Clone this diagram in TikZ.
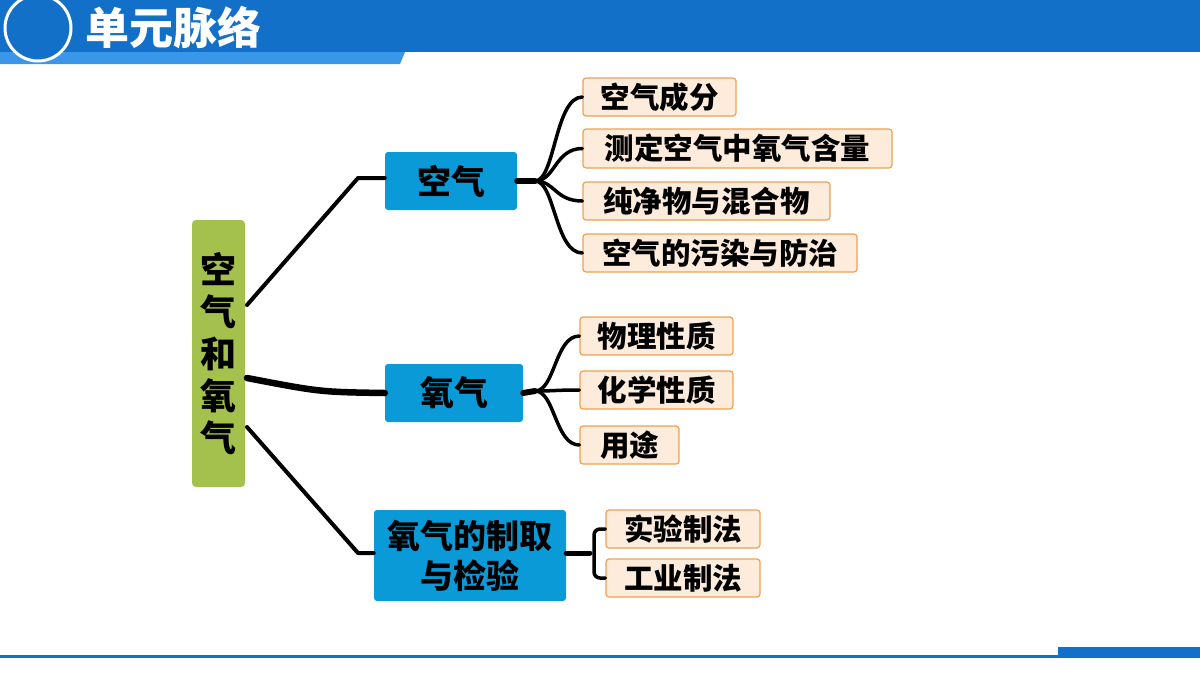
\documentclass[tikz,border=0pt]{standalone}
\usepackage{fontspec}
\newfontfamily\cjk{Noto Sans CJK SC}
\definecolor{hdr}{HTML}{1270C8}
\definecolor{strip}{HTML}{3A96E8}
\definecolor{nblue}{HTML}{0A9AD8}
\definecolor{ngreen}{HTML}{A4C14E}
\definecolor{lfill}{HTML}{FDEBDB}
\definecolor{lline}{HTML}{F0A050}
\begin{document}
\begin{tikzpicture}[x=1pt,y=-1pt,
 blue/.style={fill=nblue, rounded corners=3pt, inner sep=0pt, font=\cjk\bfseries\fontsize{34}{38}\selectfont},
 leaf/.style={fill=lfill, draw=lline, line width=1.2pt, rounded corners=3pt, inner sep=0pt, font=\cjk\bfseries\fontsize{29.5}{32}\selectfont},
 con/.style={line width=4pt, line cap=round, line join=round}]
\useasboundingbox (0,0) rectangle (1200,675);
\fill[white] (0,0) rectangle (1200,675);
\fill[hdr] (0,0) rectangle (1200,52);
\fill[strip] (0,52) -- (405,52) -- (400,64) -- (0,64) -- cycle;
\draw[white, line width=3pt, fill=hdr] (38,28) circle (33);
\node[anchor=west, text=white, font=\cjk\bfseries\fontsize{44}{48}\selectfont] (title) at (82,28) {单元脉络};
\fill[hdr] (0,655) rectangle (1200,657.5);
\fill[hdr] (1058,647) rectangle (1200,657.5);
% nodes
\node[fill=ngreen, rounded corners=4pt, minimum width=53, minimum height=267, inner sep=0pt, align=center, font=\cjk\bfseries\fontsize{36}{42}\selectfont] (root) at (218.5,353.5) {空\\气\\和\\氧\\气};
\node[blue, minimum width=132, minimum height=58] (a) at (451,181) {空气};
\node[blue, minimum width=138, minimum height=58] (o) at (454,393) {氧气};
\node[blue, minimum width=192, minimum height=91, align=center, font=\cjk\bfseries\fontsize{33}{40}\selectfont] (m) at (470,555.5) {氧气的制取\\与检验};
\node[leaf, minimum width=153, minimum height=38] (a1) at (659.5,97) {空气成分};
\node[leaf, minimum width=309, minimum height=39] (a2) at (737.5,148.5) {测定空气中氧气含量};
\node[leaf, minimum width=247, minimum height=38] (a3) at (706.5,201) {纯净物与混合物};
\node[leaf, minimum width=274, minimum height=38] (a4) at (720,253) {空气的污染与防治};
\node[leaf, minimum width=153, minimum height=38] (o1) at (656.5,336) {物理性质};
\node[leaf, minimum width=153, minimum height=38] (o2) at (656.5,390) {化学性质};
\node[leaf, minimum width=99, minimum height=38] (o3) at (629.5,445) {用途};
\node[leaf, minimum width=154, minimum height=38] (m1) at (683,529) {实验制法};
\node[leaf, minimum width=154, minimum height=38] (m2) at (683,578) {工业制法};
% connectors
\coordinate (r1) at (247,305); \coordinate (r2) at (247,378); \coordinate (r3) at (247,427);
\coordinate (k1) at (358,178); \coordinate (k3) at (358,553);
\draw[con] (r1) -- (k1) -- (k1 -| a.west);
\draw[con, line width=6.5pt] (r2) .. controls (320,392) .. (o.west);
\draw[con] (r3) -- (k3) -- (k3 -| m.west);
\coordinate (cx) at (555,0);
\coordinate (ab) at (535,181);
\draw[con, line width=6pt] (a.east) -- (ab);
\foreach \n in {a1,a2,a3,a4}{
 \draw[con, line width=3.5pt] (ab) .. controls (cx |- ab) and (cx |- \n.west) .. (\n.west);
}
\coordinate (ob) at (535,391);
\draw[con, line width=6pt] (o.east) -- (ob);
\foreach \n in {o1,o2,o3}{
 \draw[con, line width=3.5pt] (ob) .. controls (cx |- ob) and (cx |- \n.west) .. (\n.west);
}
\coordinate (mb) at (590,553);
\coordinate (bx) at (594,0);
\draw[con, line width=5pt] (m.east |- mb) -- (mb);
\draw[con, line width=3.5pt, rounded corners=6pt] (m1.west) -- (bx |- m1.west) -- (bx |- m2.west) -- (m2.west);
\end{tikzpicture}
\end{document}
